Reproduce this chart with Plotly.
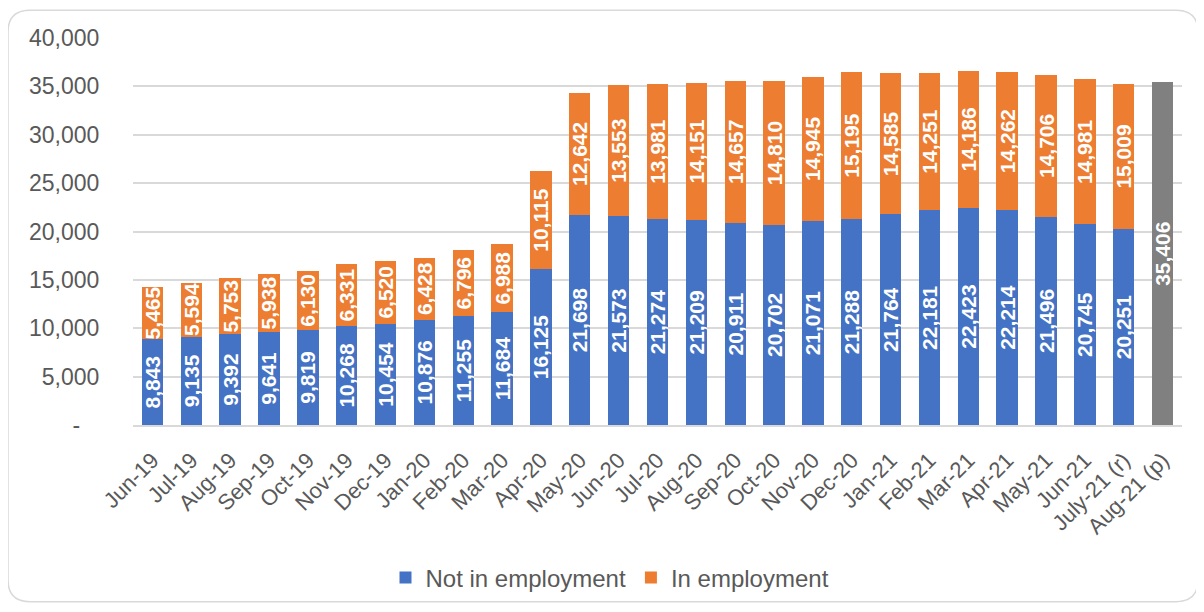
import plotly.graph_objects as go

categories = ['Jun-19', 'Jul-19', 'Aug-19', 'Sep-19', 'Oct-19', 'Nov-19', 'Dec-19',
              'Jan-20', 'Feb-20', 'Mar-20', 'Apr-20', 'May-20', 'Jun-20', 'Jul-20',
              'Aug-20', 'Sep-20', 'Oct-20', 'Nov-20', 'Dec-20', 'Jan-21', 'Feb-21',
              'Mar-21', 'Apr-21', 'May-21', 'Jun-21', 'July-21 (r)', 'Aug-21 (p)']

not_in_employment = [8843, 9135, 9392, 9641, 9819, 10268, 10454, 10876, 11255, 11684,
                     16125, 21698, 21573, 21274, 21209, 20911, 20702, 21071, 21288,
                     21764, 22181, 22423, 22214, 21496, 20745, 20251, None]

in_employment = [5465, 5594, 5753, 5938, 6130, 6331, 6520, 6428, 6796, 6988,
                 10115, 12642, 13553, 13981, 14151, 14657, 14810, 14945, 15195,
                 14585, 14251, 14186, 14262, 14706, 14981, 15009, None]

total_provisional = [None] * 26 + [35406]

ytick_vals = [0, 5000, 10000, 15000, 20000, 25000, 30000, 35000, 40000]
ytick_text = ['-\u00a0\u00a0\u00a0', '5,000', '10,000', '15,000', '20,000',
              '25,000', '30,000', '35,000', '40,000']

FONT = 'Liberation Sans, Arial, sans-serif'
GREY_TXT = '#595959'

label_font = dict(family=FONT, size=21, color='white', weight='bold')

fig = go.Figure()
fig.add_trace(go.Bar(
    x=categories, y=not_in_employment, name='Not in employment',
    marker=dict(color='#4472C4', line=dict(width=0)),
    texttemplate='%{y:,}', textposition='inside', insidetextanchor='middle',
    textangle=-90, textfont=label_font, constraintext='none',
))
fig.add_trace(go.Bar(
    x=categories, y=in_employment, name='In employment',
    marker=dict(color='#ED7D31', line=dict(width=0)),
    texttemplate='%{y:,}', textposition='inside', insidetextanchor='middle',
    textangle=-90, textfont=label_font, constraintext='none',
))
fig.add_trace(go.Bar(
    x=categories, y=total_provisional, name='Total', showlegend=False,
    marker=dict(color='#808080', line=dict(width=0)),
    texttemplate='%{y:,}', textposition='inside', insidetextanchor='middle',
    textangle=-90, textfont=dict(family=FONT, size=21, color='white', weight='bold'),
    constraintext='none',
))

# page body has an 8px margin, so work in page pixels and shift by OFF
OFF = 8
PAGE_W, PAGE_H = 1204, 612
W, H = PAGE_W - OFF, PAGE_H - OFF
L, T = 133 - OFF, 38 - OFF
R = PAGE_W - 1182
B = PAGE_H - 428
pw, ph = W - L - R, H - T - B

def px(x):
    return (x - OFF - L) / pw

def py(y):
    return (H - B - (y - OFF)) / ph

# rounded border of the chart area (page pixel coords)
x0, x1, y0, y1, r = 8, 1198, 10, 606, 22
path = (f"M {px(x0 + r)} {py(y0)} L {px(x1 - r)} {py(y0)} "
        f"Q {px(x1)} {py(y0)} {px(x1)} {py(y0 + r)} "
        f"L {px(x1)} {py(y1 - r)} Q {px(x1)} {py(y1)} {px(x1 - r)} {py(y1)} "
        f"L {px(x0 + r)} {py(y1)} Q {px(x0)} {py(y1)} {px(x0)} {py(y1 - r)} "
        f"L {px(x0)} {py(y0 + r)} Q {px(x0)} {py(y0)} {px(x0 + r)} {py(y0)} Z")

fig.update_layout(
    width=W, height=H,
    barmode='stack', bargap=0.45,
    margin=dict(l=L, r=R, t=T, b=B, pad=0),
    paper_bgcolor='white', plot_bgcolor='white',
    font=dict(family=FONT, color=GREY_TXT),
    showlegend=True,
    legend=dict(orientation='h', traceorder='normal',
                x=px(610), xanchor='center', y=py(582), yanchor='middle',
                font=dict(family=FONT, size=24, color=GREY_TXT),
                itemwidth=30, tracegroupgap=0),
    shapes=[dict(type='path', xref='paper', yref='paper', path=path,
                 line=dict(color='#d9d9d9', width=1.5), fillcolor='rgba(0,0,0,0)',
                 layer='below')],
    xaxis=dict(tickangle=-45, tickfont=dict(family=FONT, size=22, color=GREY_TXT),
               ticks='outside', ticklen=12, tickcolor='rgba(0,0,0,0)',
               showline=True, linecolor='#d9d9d9', linewidth=1.5, showgrid=False,
               automargin=False),
    yaxis=dict(range=[0, 40000], tickvals=ytick_vals, ticktext=ytick_text,
               tickfont=dict(family=FONT, size=23, color=GREY_TXT),
               ticks='outside', ticklen=28, tickcolor='rgba(0,0,0,0)',
               showgrid=True, gridcolor='#d9d9d9', gridwidth=1.5,
               zeroline=False, showline=False, automargin=False),
)

fig.write_html('out.html')
